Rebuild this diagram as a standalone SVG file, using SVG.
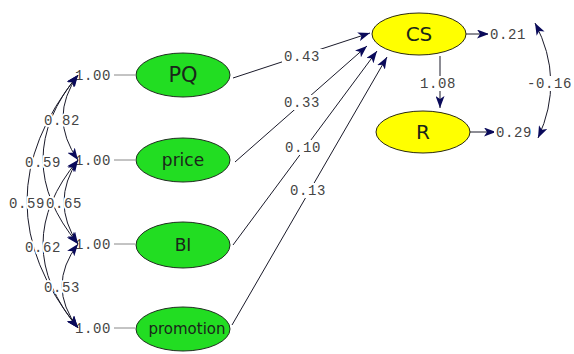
<svg xmlns="http://www.w3.org/2000/svg" width="574" height="354" viewBox="0 0 574 354">
<defs>
<marker id="ah" viewBox="0 0 12 9" refX="12" refY="4.5" markerWidth="12" markerHeight="9" markerUnits="userSpaceOnUse" orient="auto-start-reverse">
<path d="M0,0 L12,4.5 L0,9 L3,4.5 Z" fill="#0a0a5a"/>
</marker>
</defs>
<style>
.exo ellipse{fill:#22dd22;stroke:#1e2e1e;stroke-width:1}
.endo ellipse{fill:#ffff00;stroke:#2a2a10;stroke-width:1}
.nt{font-family:"DejaVu Sans",sans-serif;fill:#1a261a;text-anchor:middle}
.num{font-family:"Liberation Mono",monospace;font-size:14px;fill:#444;letter-spacing:0.6px}
.lab{paint-order:stroke;stroke:#fff;stroke-width:4px;stroke-linejoin:round}
.mid{text-anchor:middle}
.ln{fill:none;stroke:#1a1a2a;stroke-width:1}
.var{stroke:#888;stroke-width:1}
.bg{fill:#fff}
</style>
<rect width="574" height="354" fill="#fff"/>
<g id="variances">
<text class="num" x="75" y="80">1.00</text>
<text class="num" x="75" y="165">1.00</text>
<text class="num" x="75" y="249">1.00</text>
<text class="num" x="75" y="333">1.00</text>
<line class="var" x1="114" y1="75" x2="135" y2="75"/>
<line class="var" x1="114" y1="160" x2="135" y2="160"/>
<line class="var" x1="114" y1="244" x2="135" y2="244"/>
<line class="var" x1="114" y1="328" x2="135" y2="328"/>
</g>
<g id="connectors">
<path class="ln" d="M78,75 Q48,117.5 78,160" marker-start="url(#ah)" marker-end="url(#ah)"/>
<path class="ln" d="M78,75 Q8,159.5 78,244" marker-start="url(#ah)" marker-end="url(#ah)"/>
<path class="ln" d="M78,75 Q-24,201.5 78,328" marker-start="url(#ah)" marker-end="url(#ah)"/>
<path class="ln" d="M78,160 Q50,202 78,244" marker-start="url(#ah)" marker-end="url(#ah)"/>
<path class="ln" d="M78,160 Q8,244 78,328" marker-start="url(#ah)" marker-end="url(#ah)"/>
<path class="ln" d="M78,244 Q46,286 78,328" marker-start="url(#ah)" marker-end="url(#ah)"/>
<line class="ln" x1="233" y1="78" x2="370" y2="33" marker-end="url(#ah)"/>
<line class="ln" x1="235" y1="162" x2="367" y2="46" marker-end="url(#ah)"/>
<line class="ln" x1="233" y1="245" x2="377" y2="51" marker-end="url(#ah)"/>
<line class="ln" x1="232" y1="325" x2="387" y2="57" marker-end="url(#ah)"/>
<line class="ln" x1="440" y1="56" x2="440" y2="108" marker-end="url(#ah)"/>
<line class="ln" x1="466" y1="34" x2="489" y2="34" marker-end="url(#ah)"/>
<line class="ln" x1="470" y1="132" x2="496" y2="132" marker-end="url(#ah)"/>
<path class="ln" d="M535,23 Q565,80 538,138" marker-start="url(#ah)" marker-end="url(#ah)"/>
</g>
<g id="labels">
<rect class="bg" x="282" y="49" width="41" height="15"/>
<rect class="bg" x="282" y="95" width="41" height="15"/>
<rect class="bg" x="283" y="140" width="41" height="15"/>
<rect class="bg" x="288" y="183" width="41" height="15"/>
<rect class="bg" x="418" y="76" width="41" height="15"/>
<rect class="bg" x="488" y="27" width="40" height="14"/>
<rect class="bg" x="494" y="125" width="40" height="14"/>
<rect class="bg" x="525" y="76" width="49" height="15"/>
<text class="num lab mid" x="62" y="125">0.82</text>
<text class="num lab mid" x="43" y="167">0.59</text>
<text class="num lab mid" x="27" y="208">0.59</text>
<text class="num lab mid" x="64" y="208">0.65</text>
<text class="num lab mid" x="43" y="252">0.62</text>
<text class="num lab mid" x="62" y="292">0.53</text>
<text class="num mid" x="302" y="61">0.43</text>
<text class="num mid" x="302" y="107">0.33</text>
<text class="num mid" x="303" y="152">0.10</text>
<text class="num mid" x="308" y="195">0.13</text>
<text class="num mid" x="438" y="88">1.08</text>
<text class="num" x="490" y="39">0.21</text>
<text class="num" x="496" y="137">0.29</text>
<text class="num" x="527" y="88">-0.16</text>
</g>
<g id="PQ" class="exo"><ellipse cx="183" cy="75" rx="47" ry="22"/><text class="nt" x="183" y="82" font-size="21">PQ</text></g>
<g id="price" class="exo"><ellipse cx="183" cy="160" rx="47" ry="22"/><text class="nt" x="183" y="166" font-size="17">price</text></g>
<g id="BI" class="exo"><ellipse cx="183" cy="245" rx="47" ry="23"/><text class="nt" x="183" y="251" font-size="17">BI</text></g>
<g id="promotion" class="exo"><ellipse cx="183" cy="329" rx="47" ry="22"/><text class="nt" x="187" y="334" font-size="15">promotion</text></g>
<g id="CS" class="endo"><ellipse cx="419" cy="34" rx="47" ry="21"/><text class="nt" x="419" y="41" font-size="20">CS</text></g>
<g id="R" class="endo"><ellipse cx="423" cy="132" rx="47" ry="21"/><text class="nt" x="423" y="139" font-size="20">R</text></g>
</svg>
